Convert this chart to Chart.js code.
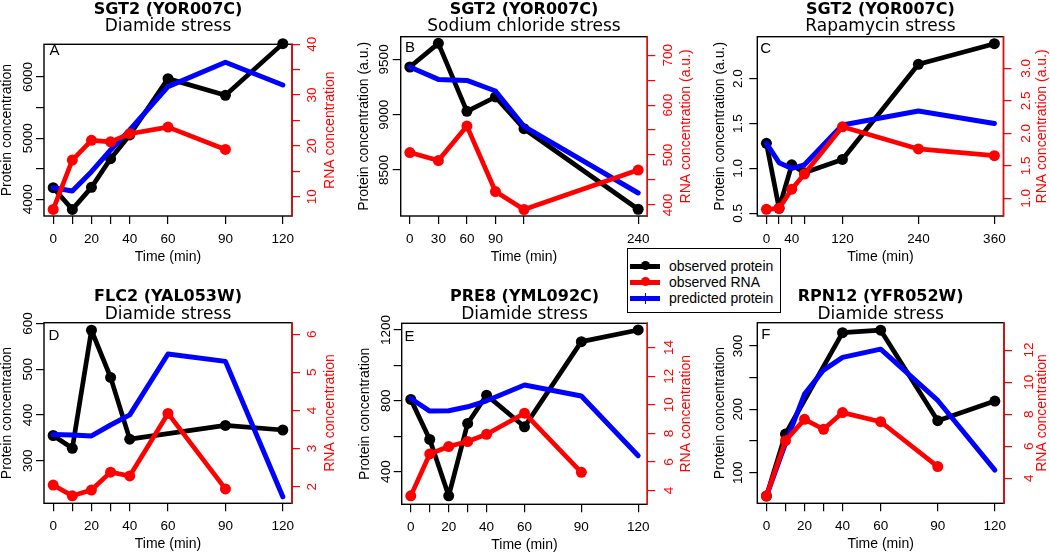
<!DOCTYPE html>
<html>
<head>
<meta charset="utf-8">
<title>SGT2 / FLC2 / PRE8 / RPN12 time courses</title>
<script src="https://cdn.jsdelivr.net/npm/chart.js@4.4.1/dist/chart.umd.min.js"></script>
<style>
  body { margin: 0; background: #fff; }
  #wrap { position: relative; width: 1050px; height: 553px; overflow: hidden; }
  #wrap canvas { position: absolute; left: 0; top: 0; }
  #legend { position: absolute; left: 627px; top: 248px; width: 152px; height: 63px;
            border: 1px solid #000; background: #fff; font: 14px 'Liberation Sans', sans-serif; z-index: 10; }
  .row { position: absolute; left: 0; width: 152px; height: 16px; }
  .row span { position: absolute; left: 41px; top: 0; line-height: 16px; color: #000; }
  .sw { position: absolute; left: 2px; top: 5.5px; width: 30px; height: 5px; }
  .dot { position: absolute; left: 11px; top: -2.5px; width: 9px; height: 9px; border-radius: 50%; }
  .tick { position: absolute; left: 15px; top: -3px; width: 1px; height: 11px; }
</style>
</head>
<body>
<div id="wrap">
  <div id="legend">
    <div class="row" style="top:9px"><div class="sw" style="background:#000"><div class="dot" style="background:#000"></div></div><span>observed protein</span></div>
    <div class="row" style="top:25px"><div class="sw" style="background:#f00"><div class="dot" style="background:#f00"></div></div><span>observed RNA</span></div>
    <div class="row" style="top:41px"><div class="sw" style="background:#00f"><div class="tick" style="background:#00f"></div></div><span>predicted protein</span></div>
  </div>
</div>
<script>
// time points (min)
const timesDiamide = [0, 10, 20, 30, 40, 60, 90, 120];
const timesRnaDiamide = [0, 10, 20, 30, 40, 60, 90];
const timesNaCl = [0, 30, 60, 90, 120, 240];
const timesRapa = [0, 20, 40, 60, 120, 240, 360];

// A - SGT2 diamide
const protA = [4190, 3836, 4196, 4665, 5052, 5973, 5700, 6545];
const predA = [4190, 4136, 4452, 4807, 5133, 5842, 6240, 5869];
const rnaA = [7.5, 17.2, 21.1, 20.8, 22.4, 23.7, 19.3];
// B - SGT2 sodium chloride
const protB = [9431, 9645, 9030, 9160, 8873, 8145];
const predB = [9431, 9319, 9310, 9214, 8895, 8292];
const rnaB = [505, 489, 558, 427, 391, 470];
// C - SGT2 rapamycin
const protC = [1.28, 0.556, 1.04, 0.953, 1.10, 2.16, 2.39];
const predC = [1.28, 1.064, 1.0, 1.04, 1.484, 1.64, 1.50];
const rnaC = [0.83, 0.846, 1.14, 1.374, 2.10, 1.76, 1.656];
// D - FLC2 diamide
const protD = [355, 327, 585, 482, 347, null, 377, 367];
const predD = [357, 356, 354, 378, 400, 533, 517, 221];
const rnaD = [2.04, 1.76, 1.91, 2.38, 2.28, 3.92, 1.94];
// E - PRE8 diamide
const protE = [808, 582, 263, 672, 832, 653, 1134, 1200];
const predE = [813, 742, 744, 766, 800, 889, 827, 490];
const rnaE = [3.63, 6.56, 7.08, 7.43, 7.94, 9.41, 5.28];
// F - RPN12 diamide
const protF = [63, 161, null, null, 321, 325, 182, 213];
const predF = [63, 146, 224, 262, 282, 295, 214, 104];
const rnaF = [2.9, 6.35, 7.68, 7.06, 8.1, 7.53, 4.73];

// axis ticks and which of them carry a label
const xTicksDiamide = [0, 10, 20, 30, 40, 60, 90, 120];
const xLabelsDiamide = [0, 20, 40, 60, 90, 120];
const xTicksNaCl = [0, 30, 60, 90, 120, 240];
const xLabelsNaCl = [0, 30, 60, 90, 240];
const xTicksRapa = [0, 20, 40, 60, 120, 240, 360];
const xLabelsRapa = [0, 40, 120, 240, 360];

const yTicksA = [4000, 4500, 5000, 5500, 6000], yLabelsA = [4000, 5000, 6000];
const rTicksA = [10, 15, 20, 25, 30, 35, 40], rLabelsA = [10, 20, 30, 40];
const yTicksB = [8500, 9000, 9500], yLabelsB = [8500, 9000, 9500];
const rTicksB = [400, 450, 500, 550, 600, 650, 700], rLabelsB = [400, 500, 600, 700];
const yTicksC = [0.5, 1.0, 1.5, 2.0], yLabelsC = [0.5, 1.0, 1.5, 2.0];
const rTicksC = [1.0, 1.5, 2.0, 2.5, 3.0], rLabelsC = [1.0, 1.5, 2.0, 2.5, 3.0];
const yTicksD = [300, 400, 500, 600], yLabelsD = [300, 400, 500, 600];
const rTicksD = [2, 3, 4, 5, 6], rLabelsD = [2, 3, 4, 5, 6];
const yTicksE = [400, 600, 800, 1000, 1200], yLabelsE = [400, 800, 1200];
const rTicksE = [4, 6, 8, 10, 12, 14], rLabelsE = [4, 6, 8, 10, 12, 14];
const yTicksF = [100, 150, 200, 250, 300], yLabelsF = [100, 200, 300];
const rTicksF = [4, 6, 8, 10, 12], rLabelsF = [4, 6, 8, 10, 12];

const panels = [
  { letter: 'A', gene: 'SGT2 (YOR007C)', stress: 'Diamide stress', box: [44, 44.3, 292, 216], titleY: [14, 30.7],
    times: timesDiamide, rnaTimes: timesRnaDiamide, prot: protA, pred: predA, rna: rnaA,
    x: [-4.8, 124.8], y: [3728, 6534], r: [6.2, 40.0],
    xTicks: xTicksDiamide, xLabels: xLabelsDiamide, yTicks: yTicksA, yLabels: yLabelsA, rTicks: rTicksA, rLabels: rLabelsA,
    yTitle: 'Protein concentration', rTitle: 'RNA concentration', dec: false, off: [15.5, 20.6], letterPos: [10.5, 6.5] },
  { letter: 'B', gene: 'SGT2 (YOR007C)', stress: 'Sodium chloride stress', box: [400.7, 36.7, 647.3, 216], titleY: [14, 30.7],
    times: timesNaCl, rnaTimes: timesNaCl, prot: protB, pred: predB, rna: rnaB,
    x: [-9.6, 249.6], y: [8084, 9705], r: [378, 737],
    xTicks: xTicksNaCl, xLabels: xLabelsNaCl, yTicks: yTicksB, yLabels: yLabelsB, rTicks: rTicksB, rLabels: rLabelsB,
    yTitle: 'Protein concentration (a.u.)', rTitle: 'RNA concentration (a.u.)', dec: false, off: [16.4, 20.5], letterPos: [9.3, 11.6] },
  { letter: 'C', gene: 'SGT2 (YOR007C)', stress: 'Rapamycin stress', box: [757.3, 36.7, 1003.5, 216], titleY: [14, 30.7],
    times: timesRapa, rnaTimes: timesRapa, prot: protC, pred: predC, rna: rnaC,
    x: [-14.4, 374.4], y: [0.47, 2.468], r: [0.728, 3.487],
    xTicks: xTicksRapa, xLabels: xLabelsRapa, yTicks: yTicksC, yLabels: yLabelsC, rTicks: rTicksC, rLabels: rLabelsC,
    yTitle: 'Protein concentration (a.u.)', rTitle: 'RNA concentration (a.u.)', dec: true, off: [18.8, 22.5], letterPos: [8.4, 12.2] },
  { letter: 'D', gene: 'FLC2 (YAL053W)', stress: 'Diamide stress', box: [44, 322.7, 292, 503.3], titleY: [301, 318.5],
    times: timesDiamide, rnaTimes: timesRnaDiamide, prot: protD, pred: predD, rna: rnaD,
    x: [-4.8, 124.8], y: [206.8, 601.5], r: [1.563, 6.3],
    xTicks: xTicksDiamide, xLabels: xLabelsDiamide, yTicks: yTicksD, yLabels: yLabelsD, rTicks: rTicksD, rLabels: rLabelsD,
    yTitle: 'Protein concentration', rTitle: 'RNA concentration', dec: false, off: [15.5, 20.6], letterPos: [9.8, 13.1] },
  { letter: 'E', gene: 'PRE8 (YML092C)', stress: 'Diamide stress', box: [401.7, 323.3, 647.3, 504.3], titleY: [301, 318.5],
    times: timesDiamide, rnaTimes: timesRnaDiamide, prot: protE, pred: predE, rna: rnaE,
    x: [-4.8, 124.8], y: [215.4, 1237.7], r: [3.04, 15.7],
    xTicks: xTicksDiamide, xLabels: xLabelsDiamide, yTicks: yTicksE, yLabels: yLabelsE, rTicks: rTicksE, rLabels: rLabelsE,
    yTitle: 'Protein concentration', rTitle: 'RNA concentration', dec: false, off: [15.5, 22], letterPos: [7.8, 13.2] },
  { letter: 'F', gene: 'RPN12 (YFR052W)', stress: 'Diamide stress', box: [757.3, 322.7, 1004, 503.3], titleY: [301, 318.5],
    times: timesDiamide, rnaTimes: timesRnaDiamide, prot: protF, pred: predF, rna: rnaF,
    x: [-4.8, 124.8], y: [51.6, 336.8], r: [2.44, 13.71],
    xTicks: xTicksDiamide, xLabels: xLabelsDiamide, yTicks: yTicksF, yLabels: yLabelsF, rTicks: rTicksF, rLabels: rLabelsF,
    yTitle: 'Protein concentration', rTitle: 'RNA concentration', dec: false, off: [19, 25], letterPos: [8.5, 12.3] }
];

Chart.defaults.font.family = "'Liberation Sans', sans-serif";
Chart.defaults.color = '#000';

const W = 1050, H = 553;
const AXIS_W = 10, AXIS_H = 40, TICK = 8;
const wrap = document.getElementById('wrap');

// pairs time/value, points that were not measured are left out
const pts = (times, vals) => times.map((t, i) => ({ x: t, y: vals[i] })).filter(d => d.y !== null && d.y !== undefined);

const setTicks = list => scale => { scale.ticks = list.map(v => ({ value: v })); };

// frame, rotated y labels, titles and panel letter (R style)
const panelText = {
  id: 'panelText',
  afterDraw(chart, args, p) {
    const { ctx, chartArea: a, scales } = chart;
    const fmt = v => p.dec ? v.toFixed(1) : String(v);
    ctx.save();
    ctx.lineWidth = 1.4;
    ctx.strokeStyle = '#000';
    ctx.strokeRect(a.left, a.top, a.right - a.left, a.bottom - a.top);
    ctx.strokeStyle = '#f00';
    ctx.beginPath();
    ctx.moveTo(a.right, a.top - 0.7);
    ctx.lineTo(a.right, a.bottom + 0.7);
    ctx.stroke();

    const rotText = (txt, x, y, color, font) => {
      ctx.save();
      ctx.translate(x, y);
      ctx.rotate(-Math.PI / 2);
      ctx.fillStyle = color;
      ctx.font = font;
      ctx.textAlign = 'center';
      ctx.textBaseline = 'middle';
      ctx.fillText(txt, 0, 0);
      ctx.restore();
    };
    const tickFont = "13.5px 'Liberation Sans'";
    const titleFont = "14px 'Liberation Sans'";
    p.yLabels.forEach(v => rotText(fmt(v), a.left - p.off[0], scales.y.getPixelForValue(v), '#000', tickFont));
    p.rLabels.forEach(v => rotText(fmt(v), a.right + p.off[1], scales.y1.getPixelForValue(v), '#f00', tickFont));
    const midY = (a.top + a.bottom) / 2;
    rotText(p.yTitle, a.left - 37, midY, '#000', titleFont);
    rotText(p.rTitle, a.right + 38.5, midY, '#f00', titleFont);

    const midX = (a.left + a.right) / 2;
    ctx.fillStyle = '#000';
    ctx.textAlign = 'center';
    ctx.textBaseline = 'alphabetic';
    ctx.font = titleFont;
    ctx.fillText('Time (min)', midX, a.bottom + 45);
    ctx.font = "bold 16px 'DejaVu Sans'";
    ctx.fillText(p.gene, midX, p.titleY[0]);
    ctx.font = "17px 'DejaVu Sans'";
    ctx.fillText(p.stress, midX, p.titleY[1]);

    ctx.font = "15px 'Liberation Sans'";
    ctx.textAlign = 'center';
    ctx.textBaseline = 'middle';
    ctx.fillText(p.letter, a.left + p.letterPos[0], a.top + p.letterPos[1]);
    ctx.restore();
  }
};

const makePanel = p => {
  const canvas = document.createElement('canvas');
  canvas.width = W;
  canvas.height = H;
  wrap.insertBefore(canvas, document.getElementById('legend'));
  const [L, T, R, B] = p.box;

  new Chart(canvas, {
    type: 'line',
    data: {
      datasets: [
        { label: 'observed RNA', data: pts(p.rnaTimes, p.rna), yAxisID: 'y1', order: 0,
          borderColor: '#ff0000', backgroundColor: '#ff0000', borderWidth: 4.7,
          pointRadius: 5.5, pointBorderWidth: 0, clip: false },
        { label: 'predicted protein', data: pts(p.times, p.pred), yAxisID: 'y', order: 1,
          borderColor: '#0000ff', backgroundColor: '#0000ff', borderWidth: 5,
          pointRadius: 0, clip: false },
        { label: 'observed protein', data: pts(p.times, p.prot), yAxisID: 'y', order: 2,
          borderColor: '#000000', backgroundColor: '#000000', borderWidth: 4.7,
          pointRadius: 5.5, pointBorderWidth: 0, clip: false }
      ]
    },
    options: {
      responsive: false,
      animation: false,
      events: [],
      layout: { padding: { left: L - AXIS_W, right: W - R - AXIS_W, top: T, bottom: H - B - AXIS_H } },
      elements: { line: { tension: 0, borderJoinStyle: 'round', borderCapStyle: 'round' } },
      plugins: { legend: { display: false }, tooltip: { enabled: false }, panelText: p },
      scales: {
        x: {
          type: 'linear', min: p.x[0], max: p.x[1],
          afterBuildTicks: setTicks(p.xTicks),
          afterFit: s => { s.height = AXIS_H; },
          grid: { drawOnChartArea: false, drawTicks: true, tickLength: TICK, color: '#000', lineWidth: 1.2 },
          border: { display: false },
          ticks: { autoSkip: false, maxRotation: 0, minRotation: 0, padding: 7, color: '#000',
                   font: { size: 13.5 }, callback: v => p.xLabels.includes(v) ? String(v) : '' }
        },
        y: {
          type: 'linear', position: 'left', min: p.y[0], max: p.y[1],
          afterBuildTicks: setTicks(p.yTicks),
          afterFit: s => { s.width = AXIS_W; },
          grid: { drawOnChartArea: false, drawTicks: true, tickLength: TICK, color: '#000', lineWidth: 1.2 },
          border: { display: false },
          ticks: { display: false }
        },
        y1: {
          type: 'linear', position: 'right', min: p.r[0], max: p.r[1],
          afterBuildTicks: setTicks(p.rTicks),
          afterFit: s => { s.width = AXIS_W; },
          grid: { drawOnChartArea: false, drawTicks: true, tickLength: TICK, color: '#ff0000', lineWidth: 1.2 },
          border: { display: false },
          ticks: { display: false }
        }
      }
    },
    plugins: [panelText]
  });
};

panels.forEach(makePanel);
</script>
</body>
</html>
